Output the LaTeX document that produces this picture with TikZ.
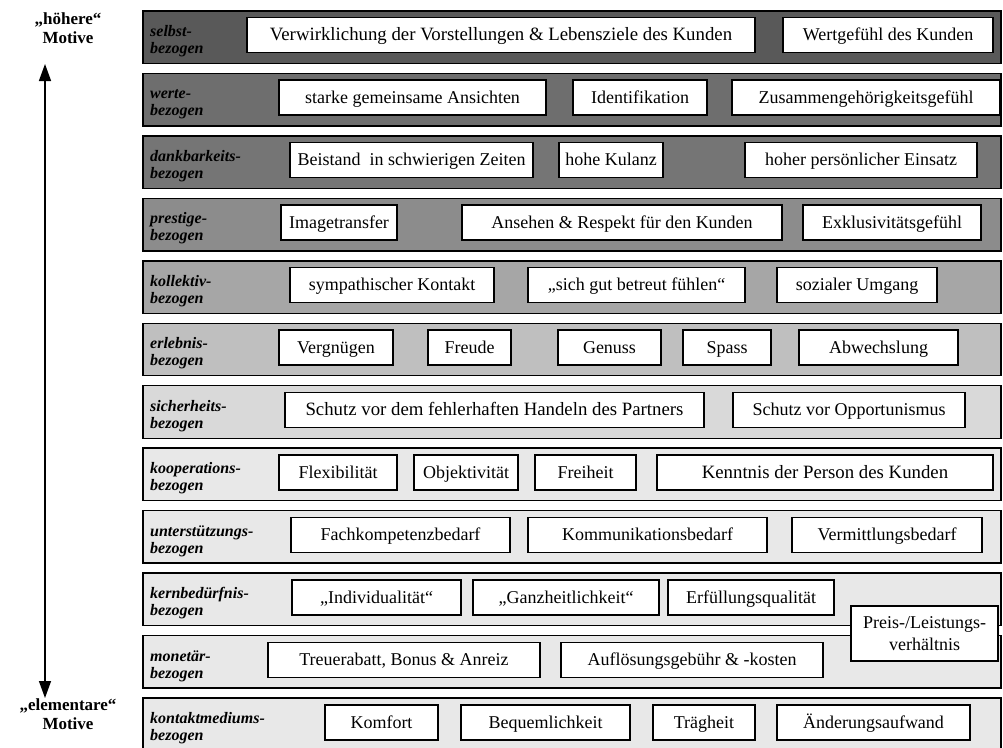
\documentclass[tikz,border=0pt]{standalone}
\usepackage{fontspec}
\setmainfont{Liberation Serif}
\usetikzlibrary{arrows.meta}
\newcommand\lstrut{\rule{0pt}{12pt}}
\begin{document}
\begin{tikzpicture}[x=1pt,y=-1pt,
  band/.style={draw=black, line width=1.4pt},
  boxed/.style={draw=black, fill=white, line width=1.4pt, inner sep=0pt},
  item/.style={boxed, minimum height=35pt, text height=14.5pt, text depth=3.5pt,
    font=\fontsize{18}{20}\selectfont},
  big/.style={font=\fontsize{18.8}{21}\selectfont},
  rowlabel/.style={anchor=north west, inner sep=0pt, align=left,
    font=\fontsize{16}{17}\selectfont\bfseries\itshape},
  side/.style={align=center, inner sep=0pt,
    font=\fontsize{17}{19}\selectfont\bfseries}]
\clip (0,0) rectangle (1003,747);
\fill[white] (0,0) rectangle (1003,747);

% level bands, darkest (highest motive) at the top
\definecolor{c1}{gray}{0.35}
\definecolor{c2}{gray}{0.43}
\definecolor{c3}{gray}{0.46}
\definecolor{c4}{gray}{0.55}
\definecolor{c5}{gray}{0.65}
\definecolor{c6}{gray}{0.75}
\definecolor{c7}{gray}{0.85}
\definecolor{c8}{gray}{0.91}
\foreach \i/\c in {0/c1,1/c2,2/c3,3/c4,4/c5,5/c6,6/c7,7/c8,8/c8,9/c8,10/c8,11/c8}{
  \draw[band, fill=\c] (143,11+62.45*\i) rectangle (1001,63.5+62.45*\i);
}

% band labels
\node[rowlabel] (l1) at (150,11+13) {\lstrut selbst-\\bezogen};
\node[rowlabel] (l2) at (150,73.5+13) {\lstrut werte-\\bezogen};
\node[rowlabel] (l3) at (150,136+13) {\lstrut dankbarkeits-\\bezogen};
\node[rowlabel] (l4) at (150,198.5+13) {\lstrut prestige-\\bezogen};
\node[rowlabel] (l5) at (150,261+13) {\lstrut kollektiv-\\bezogen};
\node[rowlabel] (l6) at (150,323.5+13) {\lstrut erlebnis-\\bezogen};
\node[rowlabel] (l7) at (150,386+13) {\lstrut sicherheits-\\bezogen};
\node[rowlabel] (l8) at (150,448.5+13) {\lstrut kooperations-\\bezogen};
\node[rowlabel] (l9) at (150,511+13) {\lstrut unterstützungs-\\bezogen};
\node[rowlabel] (l10) at (150,573.5+13) {\lstrut kernbedürfnis-\\bezogen};
\node[rowlabel] (l11) at (150,636+13) {\lstrut monetär-\\bezogen};
\node[rowlabel] (l12) at (150,698.5+13) {\lstrut kontaktmediums-\\bezogen};

% selbstbezogen
\node[item, big, minimum width=508pt] (a1) at (501,35) {Verwirklichung der Vorstellungen \& Lebensziele des Kunden};
\node[item, minimum width=210pt] (a2) at (888,35) {Wertgefühl des Kunden};
% wertebezogen
\node[item, minimum width=267pt] (b1) at (412.5,97.5) {starke gemeinsame Ansichten};
\node[item, minimum width=134pt] (b2) at (640,97.5) {Identifikation};
\node[item, minimum width=268pt] (b3) at (866,97.5) {Zusammengehörigkeitsgefühl};
% dankbarkeitsbezogen
\node[item, minimum width=243pt] (c1) at (411.5,160) {Beistand \ in schwierigen Zeiten};
\node[item, minimum width=104pt] (c2) at (611,160) {hohe Kulanz};
\node[item, minimum width=232pt] (c3) at (861,160) {hoher persönlicher Einsatz};
% prestigebezogen
\node[item, minimum width=116pt] (d1) at (339,222.5) {Imagetransfer};
\node[item, minimum width=320pt] (d2) at (622,222.5) {Ansehen \& Respekt für den Kunden};
\node[item, minimum width=178pt] (d3) at (892,222.5) {Exklusivitätsgefühl};
% kollektivbezogen
\node[item, minimum width=204pt] (e1) at (392,285) {sympathischer Kontakt};
\node[item, minimum width=217pt] (e2) at (636.5,285) {„sich gut betreut fühlen“};
\node[item, minimum width=160pt] (e3) at (857,285) {sozialer Umgang};
% erlebnisbezogen
\node[item, minimum width=114pt] (f1) at (336,347.5) {Vergnügen};
\node[item, minimum width=83pt] (f2) at (469.5,347.5) {Freude};
\node[item, minimum width=103pt] (f3) at (609.5,347.5) {Genuss};
\node[item, minimum width=88pt] (f4) at (727,347.5) {Spass};
\node[item, minimum width=159pt] (f5) at (878.5,347.5) {Abwechslung};
% sicherheitsbezogen
\node[item, big, minimum width=419pt] (g1) at (494.5,410) {Schutz vor dem fehlerhaften Handeln des Partners};
\node[item, minimum width=232pt] (g2) at (849,410) {Schutz vor Opportunismus};
% kooperationsbezogen
\node[item, minimum width=118pt] (h1) at (338,472.5) {Flexibilität};
\node[item, minimum width=104pt] (h2) at (466,472.5) {Objektivität};
\node[item, minimum width=101pt] (h3) at (585.5,472.5) {Freiheit};
\node[item, big, minimum width=336pt] (h4) at (825,472.5) {Kenntnis der Person des Kunden};
% unterstuetzungsbezogen
\node[item, minimum width=219pt] (i1) at (400.5,535) {Fachkompetenzbedarf};
\node[item, minimum width=239pt] (i2) at (647.5,535) {Kommunikationsbedarf};
\node[item, minimum width=190pt] (i3) at (887,535) {Vermittlungsbedarf};
% kernbeduerfnisbezogen
\node[item, minimum width=169pt] (j1) at (376.5,597.5) {„Individualität“};
\node[item, minimum width=186pt] (j2) at (566,597.5) {„Ganzheitlichkeit“};
\node[item, minimum width=166pt] (j3) at (751,597.5) {Erfüllungsqualität};
% monetaerbezogen
\node[item, minimum width=272pt] (k1) at (404,660) {Treuerabatt, Bonus \& Anreiz};
\node[item, minimum width=262pt] (k2) at (692,660) {Auflösungsgebühr \& -kosten};
% kontaktmediumsbezogen
\node[item, minimum width=113pt] (m1) at (381.5,722.5) {Komfort};
\node[item, minimum width=169pt] (m2) at (545.5,722.5) {Bequemlichkeit};
\node[item, minimum width=102pt] (m3) at (704,722.5) {Trägheit};
\node[item, minimum width=193pt] (m4) at (873.5,722.5) {Änderungsaufwand};

% spans the kernbeduerfnis and monetaer bands
\node[boxed, minimum width=147pt, minimum height=55pt, align=center,
  font=\fontsize{18}{22}\selectfont] (pl) at (924.5,633.5) {Preis-/Leistungs-\\verhältnis};

% motive axis
\node[side] (top) at (68,28) {„höhere“\\Motive};
\node[side] (bot) at (68,714) {„elementare“\\Motive};
\coordinate (ta) at (45,64);
\coordinate (ba) at (45,698);
\draw[line width=1.4pt, {Triangle[width=12pt,length=17pt]}-{Triangle[width=12pt,length=17pt]}] (ta) -- (ba);
\end{tikzpicture}
\end{document}
